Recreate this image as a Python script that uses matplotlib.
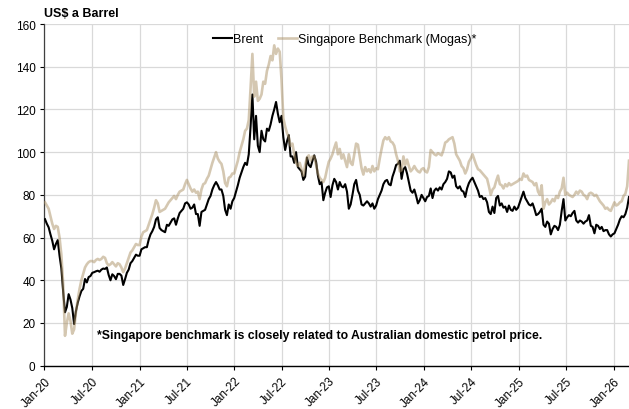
import matplotlib
matplotlib.use("Agg")
import matplotlib.pyplot as plt
import matplotlib.dates as mdates
import pandas as pd

plt.rcParams['font.family'] = ['Liberation Sans', 'DejaVu Sans']

# Weekly observations (Fridays) starting 3 Jan 2020
start_date = '2020-01-03'

brent_2020 = [68.6, 66.5, 64.8, 61.5, 58.5,
              54.5, 57.0, 58.8, 51.5,
              45.5, 34.5, 25.0, 27.5,
              33.5, 31.0, 27.0, 19.5,
              25.5, 29.5, 32.5, 35.0, 36.0,
              40.6, 39.0, 41.5, 42.0,
              43.5, 43.8, 44.2, 44.5, 44.0,
              45.0, 45.5, 45.3, 46.0,
              42.5, 40.0, 42.8, 42.0,
              40.5, 43.0, 43.0, 42.2, 37.8,
              40.5, 43.5, 45.0, 48.0,
              49.0, 50.5, 52.0, 51.5]
brent_2021 = [51.5, 54.5, 55.0, 55.5, 55.5,
              59.0, 61.5, 63.0, 65.0,
              68.5, 69.5, 64.5, 63.5,
              63.0, 62.5, 66.0, 65.5, 67.0,
              68.5, 69.0, 66.0, 69.0,
              71.5, 72.5, 73.5, 76.0,
              76.5, 75.5, 73.5, 74.0, 75.5,
              71.0, 71.0, 65.5, 72.0,
              72.5, 73.0, 75.5, 78.0,
              79.5, 82.5, 84.5, 86.0, 84.5,
              82.5, 82.5, 79.5, 73.0,
              70.5, 75.5, 73.5, 77.0]
brent_2022 = [78.5,
              81.5, 84.5, 88.0, 90.5,
              93.0, 95.0, 94.0, 99.0,
              112.0, 127.0, 106.0, 117.0,
              103.0, 100.0, 110.0, 106.0, 105.0,
              111.0, 110.0, 113.0, 117.0,
              120.0, 123.5, 118.0, 114.0,
              117.0, 107.0, 101.0, 105.0, 108.0,
              98.0, 98.0, 95.0, 100.0,
              93.0, 92.0, 91.0, 87.0, 88.5,
              97.5, 94.0, 93.0, 96.0,
              98.5, 95.5, 89.0, 85.0,
              86.0, 77.5, 81.0, 83.5]
brent_2023 = [84.0,
              79.0, 84.5, 87.5, 86.0,
              82.5, 86.0, 84.0, 83.5,
              85.0, 81.5, 73.5, 75.5, 80.0,
              85.0, 87.0, 82.0, 80.0,
              75.5, 75.0, 76.0, 77.0,
              76.0, 74.5, 76.0, 73.5, 75.0,
              78.0, 80.0, 82.0, 85.0,
              86.5, 87.0, 85.0, 84.5,
              88.5, 91.0, 94.0, 94.5, 96.0,
              87.5, 92.0, 93.0, 90.0,
              86.0, 82.0, 81.0, 82.5,
              79.5, 76.0, 77.5, 80.0]
brent_2024 = [78.5,
              77.0, 79.0, 79.5, 83.0,
              78.5, 82.0, 83.0, 82.0,
              83.5, 82.5, 85.0, 86.0, 87.5,
              91.0, 90.5, 88.0, 89.0,
              84.0, 83.0, 84.0, 82.0, 81.5,
              79.0, 83.0, 85.5, 87.0,
              88.0, 86.0, 84.0, 82.0,
              79.0, 79.5, 78.0, 78.5, 76.5,
              72.0, 71.0, 74.5, 71.5,
              78.5, 79.5, 75.0, 76.0,
              74.0, 74.5, 72.0, 75.0, 73.0,
              72.5, 74.5, 73.0]
brent_2025 = [74.0,
              76.5, 79.0, 81.5, 78.5, 77.0,
              75.5, 75.0, 76.0, 73.5,
              70.5, 71.0, 72.0, 73.5,
              66.0, 65.0, 67.5, 66.5,
              61.5, 64.0, 65.5, 65.0, 63.5,
              66.0, 72.5, 78.0, 68.0,
              69.5, 70.5, 70.0, 71.5,
              72.5, 68.0, 67.0, 68.0, 67.5,
              66.5, 67.5, 68.0, 70.5,
              65.5, 65.0, 62.0, 66.0, 65.5,
              64.0, 65.0, 63.0, 63.5,
              63.5, 61.5, 60.5]
brent_2026 = [61.5, 62.0, 64.0, 66.0, 68.5, 70.0, 69.5, 71.0, 74.0, 79.0]

sing_2020 = [76.5, 75.0, 73.5, 70.0, 66.5,
             64.0, 65.5, 65.0, 60.0,
             52.0, 38.0, 14.0, 20.0,
             24.5, 21.0, 15.0, 17.0,
             25.0, 31.0, 36.0, 40.0, 43.0,
             46.0, 47.5, 48.5, 49.0,
             49.0, 48.5, 49.5, 50.0, 49.5,
             50.0, 51.0, 50.5, 48.0,
             47.0, 47.5, 48.5, 47.5,
             46.5, 48.0, 47.5, 46.0, 43.8,
             45.5, 48.0, 50.5, 53.0,
             54.0, 55.5, 57.0, 56.5]
sing_2021 = [56.5, 60.5, 62.5, 63.0, 63.5,
             66.0, 68.5, 71.0, 74.0,
             77.5, 76.0, 72.0, 72.5,
             73.0, 73.5, 75.0, 76.5, 77.5,
             78.5, 79.5, 78.0, 80.0,
             81.5, 82.0, 82.5, 85.0,
             87.0, 85.0, 83.0, 81.5, 82.5,
             81.0, 81.5, 78.0, 82.5,
             85.0, 85.5, 87.5, 89.0,
             92.0, 95.0, 97.5, 100.0, 97.0,
             95.5, 94.5, 91.0, 85.5,
             84.0, 88.0, 88.5, 90.0]
sing_2022 = [90.0,
             93.0, 96.0, 100.0, 103.0,
             106.0, 110.0, 111.0, 115.0,
             130.0, 146.0, 126.0, 133.0,
             124.0, 125.0, 127.0, 133.0, 132.0,
             138.0, 141.0, 145.0, 143.0,
             150.0, 146.0, 148.5, 147.0,
             134.0, 116.0, 112.0, 109.0, 107.0,
             103.0, 104.0, 99.0, 95.0,
             93.5, 95.0, 92.0, 89.0, 94.0,
             97.5, 98.5, 96.0, 98.0,
             98.0, 94.0, 90.0, 88.0,
             87.0, 86.0, 88.0, 92.0]
sing_2023 = [95.5,
             97.0, 99.0, 102.0, 104.5,
             99.0, 101.5, 97.0, 99.0,
             96.0, 93.0, 99.0, 95.0, 94.0,
             99.0, 104.0, 103.5, 98.0,
             92.5, 89.5, 93.0, 91.0,
             92.0, 90.5, 93.5, 91.0, 92.5,
             92.0, 97.0, 101.5, 105.5,
             107.0, 106.0, 107.0, 105.0,
             104.5, 103.0, 99.0, 96.0, 91.0,
             91.5, 98.0, 94.0, 96.5,
             93.5, 91.0, 92.0, 93.5,
             92.0, 91.0, 90.5, 92.0]
sing_2024 = [92.5,
             91.0, 90.5, 93.0, 101.0,
             100.0, 99.0, 98.5, 99.5,
             99.0, 98.5, 101.0, 104.5, 105.0,
             106.0, 106.5, 107.0, 104.0,
             99.0, 97.5, 96.0, 93.5, 92.5,
             90.0, 92.0, 95.5, 97.0,
             99.0, 96.5, 94.0, 92.0,
             91.5, 90.5, 89.5, 88.5, 87.5,
             84.0, 80.0, 82.5, 83.5,
             86.5, 89.0, 85.0, 84.5,
             83.0, 85.0, 84.0, 85.5, 84.5,
             85.0, 85.5, 86.0]
sing_2025 = [86.5,
             87.5, 87.0, 90.0, 88.5, 89.0,
             87.0, 86.5, 86.0, 84.5,
             85.5, 81.5, 80.0, 84.5,
             73.5, 76.5, 78.0, 75.5,
             76.5, 78.0, 77.0, 79.5, 78.5,
             81.5, 83.0, 88.0, 80.0,
             81.0, 80.0, 79.5, 79.0,
             80.0, 81.5, 80.5, 82.0, 81.5,
             80.0, 79.5, 78.0, 80.5,
             81.0, 80.5, 79.5, 80.0, 78.5,
             77.0, 76.0, 75.0, 73.5,
             74.0, 73.0, 72.5]
sing_2026 = [74.5, 76.5, 75.0, 75.5, 76.5, 77.0, 79.5, 80.5, 84.0, 96.0]

brent = (brent_2020 + brent_2021 + brent_2022 + brent_2023 +
         brent_2024 + brent_2025 + brent_2026)
sing = (sing_2020 + sing_2021 + sing_2022 + sing_2023 +
        sing_2024 + sing_2025 + sing_2026)
dates = pd.date_range(start_date, periods=len(brent), freq='7D')

series_labels = ['Brent', 'Singapore Benchmark (Mogas)*']
y_ticks = [0, 20, 40, 60, 80, 100, 120, 140, 160]
title = 'US$ a Barrel'
note = '*Singapore benchmark is closely related to Australian domestic petrol price.'

fig = plt.figure(figsize=(6.29, 4.10), dpi=100)
ax = fig.add_axes([0.0707, 0.1056, 0.9293, 0.8334])

ax.plot(dates, brent, color='black', lw=1.5, zorder=3, label=series_labels[0])
ax.plot(dates, sing, color='#AB9165', alpha=0.5, lw=1.9, zorder=4,
        label=series_labels[1])

ax.set_ylim(0, 160)
ax.set_yticks(y_ticks)
ax.set_xlim(pd.Timestamp('2020-01-01'), pd.Timestamp('2026-02-27'))
ax.xaxis.set_major_locator(mdates.MonthLocator(bymonth=[1, 7]))
ax.xaxis.set_major_formatter(mdates.DateFormatter('%b-%y'))

ax.grid(True, color='#D9D9D9', lw=0.9)
ax.set_axisbelow(True)
for s in ['top', 'right']:
    ax.spines[s].set_visible(False)
ax.spines['left'].set_color('#404040')
ax.spines['left'].set_linewidth(0.9)
ax.spines['bottom'].set_color('black')
ax.spines['bottom'].set_linewidth(1.0)
ax.tick_params(axis='both', length=3, width=0.8, labelsize=8.5, colors='black')
for lab in ax.get_xticklabels():
    lab.set_rotation(45)
    lab.set_ha('right')
    lab.set_rotation_mode('anchor')

fig.text(44.5 / 629, 1 - 14 / 410, title, fontweight='bold', fontsize=9,
         va='center', ha='left')
ax.text(0.0898, 0.09, note, transform=ax.transAxes, fontweight='bold',
        fontsize=8.85, va='center', ha='left')

ax.legend(loc='center', bbox_to_anchor=(0.514, 0.955), ncol=2, frameon=False,
          handlelength=1.5, handletextpad=0.1, columnspacing=1.2, fontsize=9)

fig.savefig('out.png', dpi=100)
